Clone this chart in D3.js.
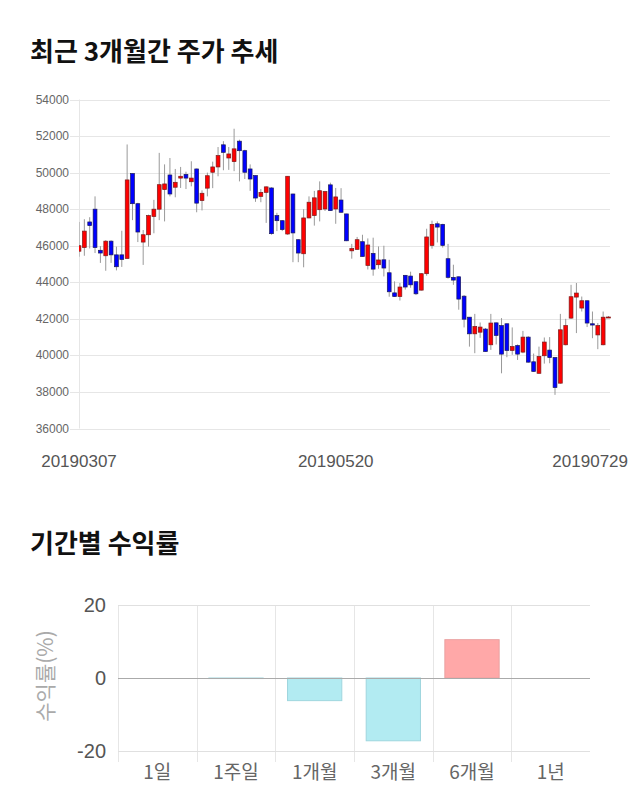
<!DOCTYPE html>
<html><head><meta charset="utf-8">
<script src="https://cdn.jsdelivr.net/npm/d3@7"></script>
<style>body{margin:0;background:#fff;} svg{display:block;font-family:"Liberation Sans",Arial,sans-serif;}</style>
</head><body><svg id="c" width="640" height="810"></svg>
<script>
// ---- candlestick data (KRW) ----
const opens = [45700,45900,47300,48000,45750,45450,46250,45500,45500,45300,
49950,48300,46200,46600,47600,48000,49070,49870,49200,49700,
49900,49500,50200,48470,49150,50020,50310,51520,50800,50600,
51720,51200,50200,49840,48700,48920,49160,47650,47370,46640,
48830,46330,45560,47520,47650,47970,48010,49330,48010,48500,
47740,45720,45800,46220,44920,45580,44960,45230,44520,43420,
43220,44380,44340,44030,43570,44470,46020,47200,47170,45290,
44270,44300,43240,42090,41180,41270,41440,40580,41780,41630,
41730,40270,40540,40180,41000,39650,39020,39980,40290,39880,
38480,40580,42040,43190,42590,42990,41730,41120,40580,42100];
const closes = [46000,46800,47100,45900,45600,46250,45500,44850,45250,49600,
48300,46750,46600,47650,48000,49340,49380,48830,49470,49800,
49700,49700,48330,48870,49830,50310,50930,51110,51020,51300,
51200,50020,49650,48610,48920,49220,46660,47370,46880,49800,
46700,45600,47520,48380,48620,49010,48960,47920,48670,47830,
46270,45840,46330,45410,46040,44720,45220,44780,43480,43220,
43740,43740,43860,43370,44470,46480,47170,47020,46020,44270,
44120,43080,41980,41180,41580,41550,40210,41770,41090,40070,
40270,40480,40070,41000,39630,39120,39940,40730,39880,38240,
41400,41630,43210,43410,42990,41770,41660,41630,42090,42100];
const highs = [47300,47450,47560,48700,45980,46300,46300,45950,46820,51540,
49950,48350,46860,47700,48510,51080,50450,50800,50200,50310,
50050,50620,50220,49030,50000,50600,51400,51720,51400,52400,
51800,51250,50450,49850,49100,49250,49200,47800,47400,49800,
48850,46350,48000,48700,49000,49520,49000,49450,49160,49150,
47750,46100,46480,46600,46400,46440,45960,46000,45230,44050,
43960,44400,44580,44050,44500,46930,47370,47330,47200,46100,
44960,44320,43300,42100,42270,41800,41500,42270,41800,42040,
41750,41530,40600,41340,41050,40100,40480,40980,41000,39900,
42270,42000,43860,43960,43220,43000,42400,41770,42400,42150];
const lows = [45400,45450,45850,45600,45060,44630,45060,44650,44840,45300,
47400,46200,44950,45950,46680,47400,47330,48700,48650,49160,
49100,49250,47830,47930,48700,49150,49800,50130,50150,50080,
49520,49650,49000,48400,48380,47250,46600,46800,46800,46600,
45100,45100,44820,47500,47100,47330,47900,47900,47200,47800,
46250,45290,45780,45400,44700,44360,44740,44320,43210,43200,
43000,43600,43700,43300,43550,44360,45840,46180,45900,44200,
43860,42500,41530,40480,40120,40960,40200,40300,40600,39020,
39900,40030,39750,40120,39600,39100,39000,39550,39570,37840,
38450,40550,42000,41220,42400,41550,40940,40340,40550,42050];
const priceTicks = [36000,38000,40000,42000,44000,46000,48000,50000,52000,54000];
const dateLabels = ["20190307","20190520","20190729"];
const dateLabelIndex = [0,48,99];

// ---- period returns (%) ----
const periods = ["1일","1주일","1개월","3개월","6개월","1년"];
const returns = [0,-0.15,-6.2,-17.2,10.5,0];
const returnTicks = [-20,0,20];

const svg = d3.select("#c");
const kr = '"Noto Sans CJK KR","Noto Sans",sans-serif';

// titles
svg.append("text").attr("x",30).attr("y",61).attr("font-family",kr).attr("font-weight",700)
  .attr("font-size",26).attr("fill","#111").text("최근 3개월간 주가 추세");
svg.append("text").attr("x",30).attr("y",553).attr("font-family",kr).attr("font-weight",700)
  .attr("font-size",26).attr("fill","#111").text("기간별 수익률");

// ---- candlestick chart ----
const idx = d3.range(opens.length);
const x = d3.scaleLinear().domain([0, opens.length-1]).range([79, 608.5]);
const y = d3.scaleLinear().domain([36000,54000]).range([428.5, 99.5]);

const g1 = svg.append("g");
g1.selectAll("line.grid").data(priceTicks).join("line")
  .attr("x1",70).attr("x2",610).attr("y1",d=>Math.round(y(d))+0.5).attr("y2",d=>Math.round(y(d))+0.5)
  .attr("stroke","#e6e6e6").attr("stroke-width",1);
g1.append("line").attr("x1",79.5).attr("x2",79.5).attr("y1",y(54000)).attr("y2",y(36000))
  .attr("stroke","#e6e6e6");
g1.selectAll("text.yt").data(priceTicks).join("text")
  .attr("x",69).attr("y",d=>y(d)+4).attr("text-anchor","end")
  .attr("font-size",12).attr("fill","#666").text(d=>d);

svg.append("clipPath").attr("id","pc").append("rect")
  .attr("x",79).attr("y",90).attr("width",535).attr("height",345);
const cg = g1.append("g").attr("clip-path","url(#pc)");
cg.selectAll("line.wick").data(idx).join("line")
  .attr("x1",i=>x(i)).attr("x2",i=>x(i)).attr("y1",i=>y(highs[i])).attr("y2",i=>y(lows[i]))
  .attr("stroke","#999").attr("stroke-width",1);
cg.selectAll("rect.body").data(idx).join("rect")
  .attr("x",i=>x(i)-1.9).attr("width",3.8)
  .attr("y",i=>y(Math.max(opens[i],closes[i])))
  .attr("height",i=>Math.max(1,Math.abs(y(opens[i])-y(closes[i]))))
  .attr("fill",i=>closes[i]>=opens[i]?"#ff0000":"#0000ff")
  .attr("stroke",i=>closes[i]>=opens[i]?"#7a1a1a":"#1a1a5a").attr("stroke-width",0.7);

g1.selectAll("text.xt").data(dateLabels).join("text")
  .attr("font-size",17).attr("fill","#555").attr("text-anchor","middle")
  .attr("y",467)
  .text(d=>d)
  .attr("x",function(d,k){
    const w = this.getComputedTextLength();
    return Math.min(x(dateLabelIndex[k]), 628 - w/2);
  });

// ---- returns bar chart ----
const bx = d3.scaleBand().domain(periods).range([118, 590]).padding(0);
const by = d3.scaleLinear().domain([-20,20]).range([751, 605]);
const g2 = svg.append("g");
g2.selectAll("line.vg").data(periods).join("line")
  .attr("x1",d=>Math.round(bx(d))+0.5).attr("x2",d=>Math.round(bx(d))+0.5)
  .attr("y1",by(20)).attr("y2",by(-20)+11)
  .attr("stroke","#e6e6e6");
g2.selectAll("line.hg").data(returnTicks.filter(d=>d!==0)).join("line")
  .attr("x1",118).attr("x2",590).attr("y1",d=>Math.round(by(d))+0.5).attr("y2",d=>Math.round(by(d))+0.5)
  .attr("stroke","#e0e0e0");
const bw = bx.bandwidth()*0.69;
g2.selectAll("rect.bar").data(periods.map((p,i)=>({p,v:returns[i]})).filter(d=>d.v!==0)).join("rect")
  .attr("x",d=>bx(d.p)+(bx.bandwidth()-bw)/2).attr("width",bw)
  .attr("y",d=>by(Math.max(0,d.v))).attr("height",d=>Math.max(0.5,Math.abs(by(d.v)-by(0))))
  .attr("fill",d=>d.v>0?"#ffa8a8":"#b2ebf2")
  .attr("stroke",d=>d.v>0?"#eaa0a0":"#9fd6de").attr("stroke-width",1);
g2.append("line").attr("x1",118).attr("x2",590).attr("y1",Math.round(by(0))+0.5).attr("y2",Math.round(by(0))+0.5)
  .attr("stroke","#aaa");
g2.selectAll("text.yt2").data(returnTicks).join("text")
  .attr("x",106).attr("y",d=>by(d)+7).attr("text-anchor","end")
  .attr("font-size",20).attr("fill","#555").text(d=>d);
g2.selectAll("text.xt2").data(periods).join("text")
  .attr("x",d=>bx(d)+bx.bandwidth()/2).attr("y",779).attr("text-anchor","middle")
  .attr("font-family",kr).attr("font-size",19).attr("fill","#666").text(d=>d);
g2.append("text").attr("transform","translate(53,676) rotate(-90)").attr("text-anchor","middle")
  .attr("font-family",kr).attr("font-size",21).attr("fill","#aaa").text("수익률(%)");
</script></body></html>
